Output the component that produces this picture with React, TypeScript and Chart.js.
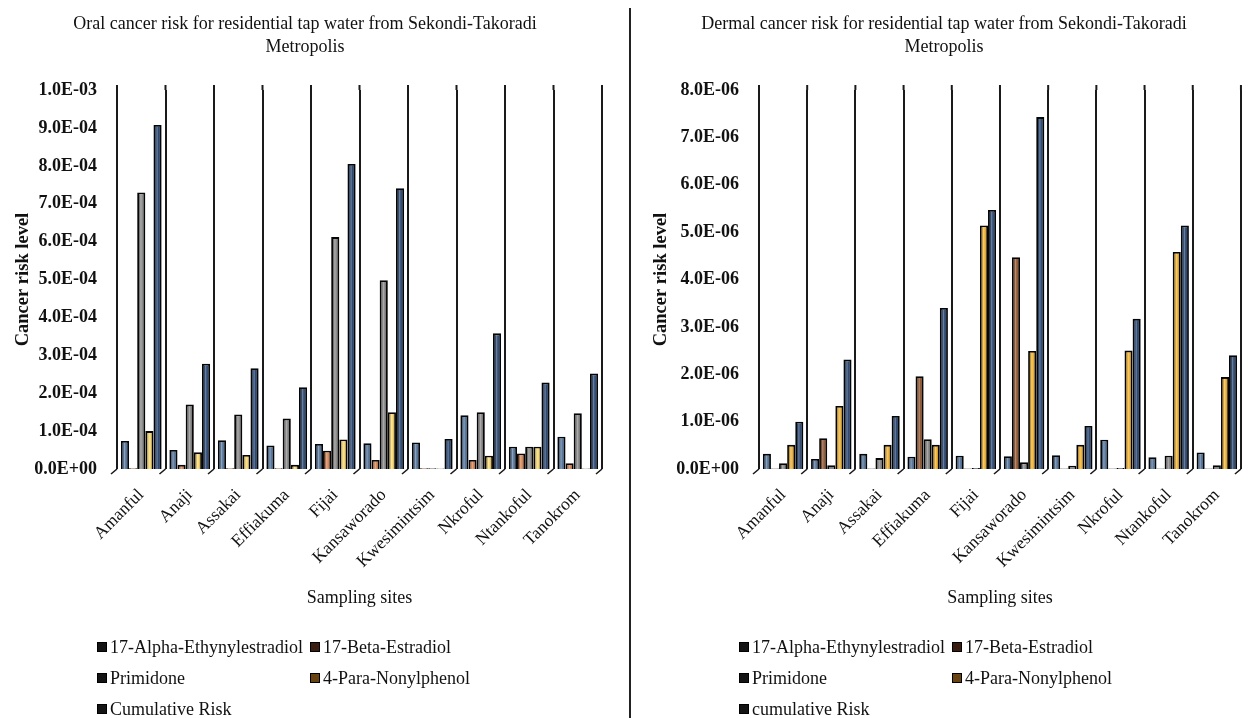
import React, { useEffect, useRef } from 'react';
import { Chart, registerables } from 'chart.js';

Chart.register(...registerables);

// Sampling sites in Sekondi-Takoradi Metropolis
const SITES = [
  'Amanful', 'Anaji', 'Assakai', 'Effiakuma', 'Fijai',
  'Kansaworado', 'Kwesimintsim', 'Nkroful', 'Ntankoful', 'Tanokrom',
];

const ORAL_NAMES = [
  '17-Alpha-Ethynylestradiol', '17-Beta-Estradiol', 'Primidone',
  '4-Para-Nonylphenol', 'Cumulative Risk',
];
const DERMAL_NAMES = [
  '17-Alpha-Ethynylestradiol', '17-Beta-Estradiol', 'Primidone',
  '4-Para-Nonylphenol', 'cumulative Risk',
];

// Oral cancer risk
const ORAL_ALPHA = [7.4e-5, 5.0e-5, 7.6e-5, 6.2e-5, 6.6e-5, 6.8e-5, 7.0e-5, 1.42e-4, 5.9e-5, 8.5e-5];
const ORAL_BETA = [2e-6, 1.1e-5, 2e-6, 2e-6, 4.8e-5, 2.4e-5, 2e-6, 2.4e-5, 4.1e-5, 1.5e-5];
const ORAL_PRIMIDONE = [7.3e-4, 1.7e-4, 1.44e-4, 1.33e-4, 6.12e-4, 4.98e-4, 2e-6, 1.5e-4, 5.9e-5, 1.47e-4];
const ORAL_NONYLPHENOL = [1.0e-4, 4.4e-5, 3.7e-5, 1.1e-5, 7.8e-5, 1.5e-4, 1e-6, 3.5e-5, 5.9e-5, 1e-6];
const ORAL_CUMULATIVE = [9.08e-4, 2.78e-4, 2.66e-4, 2.16e-4, 8.05e-4, 7.41e-4, 7.9e-5, 3.58e-4, 2.28e-4, 2.52e-4];

// Dermal cancer risk
const DERMAL_ALPHA = [3.2e-7, 2.1e-7, 3.2e-7, 2.6e-7, 2.8e-7, 2.7e-7, 2.9e-7, 6.2e-7, 2.5e-7, 3.5e-7];
const DERMAL_BETA = [1e-8, 6.5e-7, 1e-8, 1.96e-6, 1e-8, 4.47e-6, 1e-8, 1e-8, 1e-8, 1e-8];
const DERMAL_PRIMIDONE = [1.2e-7, 8e-8, 2.3e-7, 6.3e-7, 2e-8, 1.4e-7, 7e-8, 2e-8, 2.8e-7, 8e-8];
const DERMAL_NONYLPHENOL = [5.1e-7, 1.33e-6, 5.1e-7, 5.1e-7, 5.14e-6, 2.49e-6, 5.1e-7, 2.5e-6, 4.58e-6, 1.94e-6];
const DERMAL_CUMULATIVE = [1.0e-6, 2.31e-6, 1.12e-6, 3.4e-6, 5.47e-6, 7.43e-6, 9.1e-7, 3.17e-6, 5.14e-6, 2.4e-6];

const ORAL_COLORS = ['#4d6f98', '#d9804a', '#858585', '#f8d668', '#1f3e6c'];
const DERMAL_COLORS = ['#4d6f98', '#8e5028', '#858585', '#f0b02a', '#1f3e6c'];
const LEGEND_MARKS = ['#141414', '#3a1c10', '#141414', '#6a4312', '#141414'];

const FONT = "'Liberation Serif', 'Times New Roman', serif";
const INK = '#111';

function sciLabel(v: number): string {
  if (Math.abs(v) < 1e-15) return '0.0E+00';
  const [m, e] = v.toExponential(1).split('e');
  const n = parseInt(e, 10);
  return `${m}E${n < 0 ? '-' : '+'}${String(Math.abs(n)).padStart(2, '0')}`;
}

// Horizontal light/dark shading across each bar for a rounded look
const barShading = {
  id: 'barShading',
  afterDatasetsDraw(chart: any) {
    const ctx = chart.ctx;
    chart.data.datasets.forEach((_: any, di: number) => {
      const meta = chart.getDatasetMeta(di);
      meta.data.forEach((el: any) => {
        const { x, y, base, width } = el.getProps(['x', 'y', 'base', 'width'], true);
        const h = Math.abs(base - y);
        if (h < 4) return;
        const inset = 1.8;
        const left = x - width / 2 + inset;
        const w = width - inset * 2;
        const top = Math.min(y, base) + inset;
        const g = ctx.createLinearGradient(left, 0, left + w, 0);
        g.addColorStop(0, 'rgba(0,0,0,0.3)');
        g.addColorStop(0.4, 'rgba(255,255,255,0.35)');
        g.addColorStop(0.7, 'rgba(255,255,255,0.05)');
        g.addColorStop(1, 'rgba(0,0,0,0.35)');
        ctx.save();
        ctx.fillStyle = g;
        ctx.fillRect(left, top, w, h - inset);
        ctx.restore();
      });
    });
  },
};

// Wall dividers rise a little above the top tick; slanted floor strokes at their feet
const wallStrokes = {
  id: 'wallStrokes',
  afterDraw(chart: any) {
    const xs = chart.scales.x;
    const { top, bottom } = chart.chartArea;
    const ctx = chart.ctx;
    ctx.save();
    ctx.strokeStyle = '#1a1a1a';
    ctx.beginPath();
    ctx.lineWidth = 2;
    for (let i = 0; i <= xs.ticks.length; i++) {
      const px = xs.getPixelForValue(i - 0.5);
      ctx.moveTo(px, top - 5);
      ctx.lineTo(px, top);
    }
    ctx.stroke();
    ctx.beginPath();
    ctx.lineWidth = 1.6;
    for (let i = 0; i <= xs.ticks.length; i++) {
      const px = xs.getPixelForValue(i - 0.5);
      ctx.moveTo(px - 6, bottom + 5);
      ctx.lineTo(px, bottom);
    }
    ctx.stroke();
    ctx.restore();
  },
};

interface PanelProps {
  left: number;
  width: number;
  title: string[];
  names: string[];
  series: number[][];
  colors: string[];
  max: number;
  step: number;
  padLeft: number;
  padRight: number;
  axisWidth: number;
}

const HEIGHT = 718;

function RiskPanel(p: PanelProps) {
  const ref = useRef<HTMLCanvasElement>(null);

  useEffect(() => {
    if (!ref.current) return;
    const chart = new Chart(ref.current, {
      type: 'bar',
      data: {
        labels: SITES,
        datasets: p.series.map((values, i) => ({
          label: p.names[i],
          data: values,
          backgroundColor: p.colors[i],
          borderColor: '#050505',
          borderWidth: 1.8,
          categoryPercentage: 0.84,
          barPercentage: 1.0,
        })),
      },
      options: {
        animation: false,
        responsive: false,
        layout: { padding: { left: p.padLeft, right: p.padRight, top: 0, bottom: 105 } },
        plugins: {
          legend: { display: false },
          tooltip: { enabled: false },
          title: {
            display: true,
            text: p.title,
            color: INK,
            font: { family: FONT, size: 18, weight: 'normal', lineHeight: 1.28 },
            padding: { top: 13, bottom: 31 },
          },
        },
        scales: {
          x: {
            grid: { display: true, offset: true, color: '#1a1a1a', lineWidth: 2, drawTicks: false },
            border: { display: false },
            ticks: {
              autoSkip: false,
              minRotation: 45,
              maxRotation: 45,
              padding: 16,
              color: INK,
              font: { family: FONT, size: 17.5 },
            },
            title: {
              display: true,
              text: 'Sampling sites',
              color: INK,
              font: { family: FONT, size: 18 },
              padding: { top: 4, bottom: 4 },
            },
            afterFit: (s: any) => { s.height = 144; },
          },
          y: {
            min: 0,
            max: p.max,
            grid: { display: false, drawTicks: false },
            border: { display: false },
            ticks: {
              stepSize: p.step,
              padding: 20,
              color: INK,
              font: { family: FONT, size: 18, weight: 'bold' },
              callback: (v: any) => sciLabel(Number(v)),
            },
            title: {
              display: true,
              text: 'Cancer risk level',
              color: INK,
              font: { family: FONT, size: 18.5, weight: 'bold' },
            },
            afterFit: (s: any) => { s.width = p.axisWidth; },
          },
        },
      } as any,
      plugins: [barShading, wallStrokes],
    });
    return () => chart.destroy();
  }, []);

  const rows = [
    [0, 1],
    [2, 3],
    [4],
  ];

  return (
    <div style={{ position: 'absolute', left: p.left, top: 0, width: p.width, height: HEIGHT }}>
      <canvas ref={ref} width={p.width} height={HEIGHT} style={{ width: p.width, height: HEIGHT, display: 'block' }} />
      {rows.map((row, r) =>
        row.map((si, c) => (
          <div
            key={`${r}-${c}`}
            style={{
              position: 'absolute',
              left: (c === 0 ? p.padLeft + p.axisWidth - 20 : p.padLeft + p.axisWidth + 193),
              top: 636 + r * 31,
              height: 22,
              display: 'flex',
              alignItems: 'center',
              whiteSpace: 'nowrap',
              fontFamily: FONT,
              fontSize: 18,
              color: INK,
            }}
          >
            <span
              style={{
                display: 'inline-block',
                width: 10,
                height: 10,
                background: LEGEND_MARKS[si],
                border: '1px solid #000',
                marginRight: 3,
                boxSizing: 'border-box',
              }}
            />
            {p.names[si]}
          </div>
        ))
      )}
    </div>
  );
}

export default function App() {
  useEffect(() => {
    document.body.style.margin = '0';
  }, []);

  return (
    <div style={{ position: 'relative', width: 1248, height: HEIGHT, background: '#fff', overflow: 'hidden' }}>
      <RiskPanel
        left={0}
        width={628}
        title={['Oral cancer risk for residential tap water from Sekondi-Takoradi', 'Metropolis']}
        names={ORAL_NAMES}
        series={[ORAL_ALPHA, ORAL_BETA, ORAL_PRIMIDONE, ORAL_NONYLPHENOL, ORAL_CUMULATIVE]}
        colors={ORAL_COLORS}
        max={1e-3}
        step={1e-4}
        padLeft={8}
        padRight={26}
        axisWidth={109}
      />
      <div style={{ position: 'absolute', left: 629, top: 8, width: 2, height: HEIGHT - 8, background: '#222' }} />
      <RiskPanel
        left={630}
        width={618}
        title={['Dermal cancer risk for residential tap water from Sekondi-Takoradi', 'Metropolis']}
        names={DERMAL_NAMES}
        series={[DERMAL_ALPHA, DERMAL_BETA, DERMAL_PRIMIDONE, DERMAL_NONYLPHENOL, DERMAL_CUMULATIVE]}
        colors={DERMAL_COLORS}
        max={8e-6}
        step={1e-6}
        padLeft={16}
        padRight={6}
        axisWidth={113}
      />
    </div>
  );
}
